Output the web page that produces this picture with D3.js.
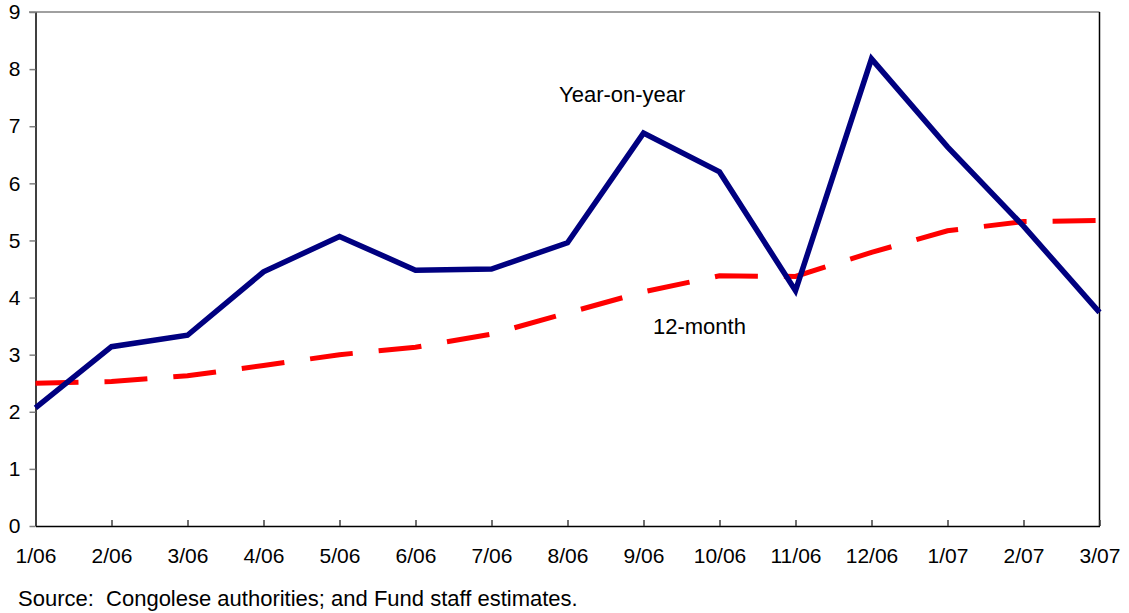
<!DOCTYPE html>
<html>
<head>
<meta charset="utf-8">
<script src="https://cdn.jsdelivr.net/npm/d3@7"></script>
<style>
  body { margin: 0; background: #fff; }
  svg text { font-family: "Liberation Sans", Arial, sans-serif; font-size: 21px; fill: #000; }
  svg text.note { font-size: 22px; }
</style>
</head>
<body>
<svg id="chart" width="1129" height="613"></svg>
<script>
// months shown on the x axis
var months = ["1/06", "2/06", "3/06", "4/06", "5/06", "6/06", "7/06", "8/06",
              "9/06", "10/06", "11/06", "12/06", "1/07", "2/07", "3/07"];

// year-on-year inflation
var yearOnYear = [2.07, 3.14, 3.34, 4.45, 5.07, 4.48, 4.50, 4.96,
                  6.88, 6.20, 4.12, 8.18, 6.64, 5.25, 3.74];

// 12-month average
var twelveMonth = [2.50, 2.53, 2.63, 2.81, 3.00, 3.13, 3.36, 3.73,
                   4.10, 4.38, 4.37, 4.79, 5.17, 5.33, 5.35];

var yTicks = [0, 1, 2, 3, 4, 5, 6, 7, 8, 9];

var svg = d3.select("#chart");

var plotLeft = 35.5, plotRight = 1099.5, plotTop = 12, plotBottom = 526;

var x = d3.scalePoint().domain(months).range([plotLeft, plotRight]);
var y = d3.scaleLinear().domain([0, 9]).range([plotBottom, plotTop]);

// top border (gray) and right border (black)
svg.append("line")
    .attr("x1", 29).attr("x2", plotRight)
    .attr("y1", y(9)).attr("y2", y(9))
    .attr("stroke", "#808080").attr("stroke-width", 1.5);
svg.append("line")
    .attr("x1", plotRight).attr("x2", plotRight)
    .attr("y1", plotTop).attr("y2", plotBottom)
    .attr("stroke", "#000").attr("stroke-width", 1.5);

// y axis
var yAxis = svg.append("g")
    .attr("transform", "translate(" + plotLeft + ",0)")
    .call(d3.axisLeft(y).tickValues(yTicks).tickSizeInner(6).tickSizeOuter(0)
        .tickPadding(9).tickFormat(d3.format("d")));
yAxis.select(".domain").attr("stroke", "#000").attr("stroke-width", 1.5);
yAxis.selectAll(".tick line").attr("stroke", "#808080").attr("stroke-width", 1.5);
yAxis.selectAll(".tick text").attr("font-size", null).attr("font-family", null).attr("fill", null);

// x axis, ticks pointing up into the plot
var xAxis = svg.append("g")
    .attr("transform", "translate(0," + plotBottom + ")")
    .call(d3.axisBottom(x).tickSizeInner(-6).tickSizeOuter(0).tickPadding(0));
xAxis.select(".domain").attr("stroke", "#000").attr("stroke-width", 1.5);
xAxis.selectAll(".tick line").attr("stroke", "#404040").attr("stroke-width", 1.5);
xAxis.selectAll(".tick text")
    .attr("font-size", null).attr("font-family", null).attr("fill", null)
    .attr("y", 37).attr("dy", null);

var line = d3.line()
    .x(function (d, i) { return x(months[i]); })
    .y(function (d) { return y(d); });

// 12-month, dashed red
svg.append("path")
    .datum(twelveMonth)
    .attr("d", line)
    .attr("fill", "none")
    .attr("stroke", "#ff0000")
    .attr("stroke-width", 5)
    .attr("stroke-dasharray", "43,26");

// year-on-year, solid navy
svg.append("path")
    .datum(yearOnYear)
    .attr("d", line)
    .attr("fill", "none")
    .attr("stroke", "#000080")
    .attr("stroke-width", 5.5)
    .attr("stroke-linejoin", "miter");

// series labels
svg.append("text").attr("class", "note").attr("x", 559).attr("y", 102).text("Year-on-year");
svg.append("text").attr("class", "note").attr("x", 653).attr("y", 334).text("12-month");

// source note
svg.append("text").attr("class", "note").attr("x", 18).attr("y", 606)
    .text("Source:\u00a0\u00a0Congolese authorities; and Fund staff estimates.");
</script>
</body>
</html>
